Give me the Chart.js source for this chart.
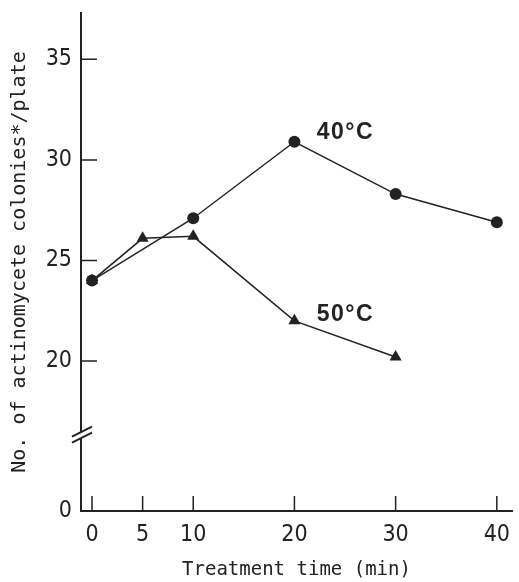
<!DOCTYPE html>
<html>
<head>
<meta charset="utf-8">
<script src="https://cdn.jsdelivr.net/npm/chart.js@4.4.0/dist/chart.umd.min.js"></script>
<style>
  html, body { margin: 0; padding: 0; background: #fff; }
</style>
</head>
<body>
<canvas id="chart" width="519" height="582"></canvas>
<script>
// data
var times40 = [0, 10, 20, 30, 40];
var colonies40 = [24.0, 27.1, 30.9, 28.3, 26.9];
var times50 = [0, 5, 10, 20, 30];
var colonies50 = [24.0, 26.1, 26.2, 22.0, 20.2];
var xTicks = [0, 5, 10, 20, 30, 40];
var yTicks = [20, 25, 30, 35];
var yZero = 12.55;     // the "0" of the broken axis sits here
var yBreak = 16.3;     // where the // break marks go
var seriesLabels = ['40°C', '50°C'];

var ink = '#222';
var tickFont = { family: "'Liberation Sans Narrow', 'DejaVu Sans Condensed', sans-serif", size: 23 };

function toPoints(xs, ys) {
  return xs.map(function (x, i) { return { x: x, y: ys[i] }; });
}

var extras = {
  id: 'extras',
  afterDraw: function (chart) {
    var ctx = chart.ctx;
    var xs = chart.scales.x, ys = chart.scales.y;
    var left = chart.chartArea.left, bottom = chart.chartArea.bottom;
    ctx.save();
    ctx.strokeStyle = ink;
    ctx.lineWidth = 1.5;
    ctx.beginPath();
    // tick marks point into the plot
    yTicks.forEach(function (v) {
      var py = ys.getPixelForValue(v);
      ctx.moveTo(left, py);
      ctx.lineTo(left + 16, py);
    });
    xTicks.forEach(function (v) {
      var px = xs.getPixelForValue(v);
      ctx.moveTo(px, bottom);
      ctx.lineTo(px, bottom - 15);
    });
    ctx.stroke();

    // axis break
    var by = ys.getPixelForValue(yBreak);
    ctx.fillStyle = '#fff';
    ctx.fillRect(left - 3, by - 3, 6, 6);
    ctx.lineWidth = 2;
    ctx.beginPath();
    ctx.moveTo(left - 9, by + 1);
    ctx.lineTo(left + 11, by - 9);
    ctx.moveTo(left - 9, by + 7);
    ctx.lineTo(left + 11, by - 3);
    ctx.stroke();

    // series labels
    ctx.fillStyle = ink;
    ctx.font = "bold 23px 'Liberation Sans', Arial, sans-serif";
    ctx.letterSpacing = '1.5px';
    ctx.textAlign = 'left';
    ctx.textBaseline = 'middle';
    ctx.fillText(seriesLabels[0], xs.getPixelForValue(22.2), ys.getPixelForValue(31.35));
    ctx.fillText(seriesLabels[1], xs.getPixelForValue(22.2), ys.getPixelForValue(22.3));
    ctx.restore();
  }
};

new Chart(document.getElementById('chart'), {
  type: 'line',
  data: {
    datasets: [
      {
        label: seriesLabels[0],
        data: toPoints(times40, colonies40),
        borderColor: ink,
        borderWidth: 1.5,
        backgroundColor: ink,
        pointStyle: 'circle',
        pointRadius: 6,
        pointBorderWidth: 0
      },
      {
        label: seriesLabels[1],
        data: toPoints(times50, colonies50),
        borderColor: ink,
        borderWidth: 1.5,
        backgroundColor: ink,
        pointStyle: 'triangle',
        pointRadius: 7,
        pointBorderWidth: 0
      }
    ]
  },
  options: {
    responsive: false,
    animation: false,
    layout: { padding: { top: 13, right: 0, left: 0, bottom: 0 } },
    plugins: { legend: { display: false }, tooltip: { enabled: false } },
    scales: {
      x: {
        type: 'linear',
        min: -1.09,
        max: 41.5,
        afterBuildTicks: function (scale) {
          scale.ticks = xTicks.map(function (v) { return { value: v }; });
        },
        afterFit: function (scale) {
          scale.height = 71;
          scale.paddingLeft = 0;
          scale.paddingRight = 0;
        },
        grid: { display: false, drawTicks: false },
        border: { display: true, color: ink, width: 2 },
        ticks: { color: ink, font: tickFont, padding: 10, maxRotation: 0, autoSkip: false },
        title: {
          display: true,
          text: 'Treatment time (min)',
          color: ink,
          font: { family: "'DejaVu Sans Mono', monospace", size: 19 },
          padding: { top: 0, bottom: 1 }
        }
      },
      y: {
        type: 'linear',
        min: yZero,
        max: 37.3,
        afterBuildTicks: function (scale) {
          scale.ticks = [yZero].concat(yTicks).map(function (v) { return { value: v }; });
        },
        afterFit: function (scale) {
          scale.width = 81;
          scale.paddingTop = 0;
          scale.paddingBottom = 0;
        },
        grid: { display: false, drawTicks: false },
        border: { display: true, color: ink, width: 2 },
        ticks: {
          color: ink, font: tickFont, padding: 9, autoSkip: false,
          callback: function (v) { return v === yZero ? '0' : v; }
        },
        title: {
          display: true,
          text: 'No. of actinomycete colonies*/plate',
          color: ink,
          font: { family: "'DejaVu Sans Mono', monospace", size: 20 },
          padding: { top: 8, bottom: 0 }
        }
      }
    }
  },
  plugins: [extras]
});
</script>
</body>
</html>
